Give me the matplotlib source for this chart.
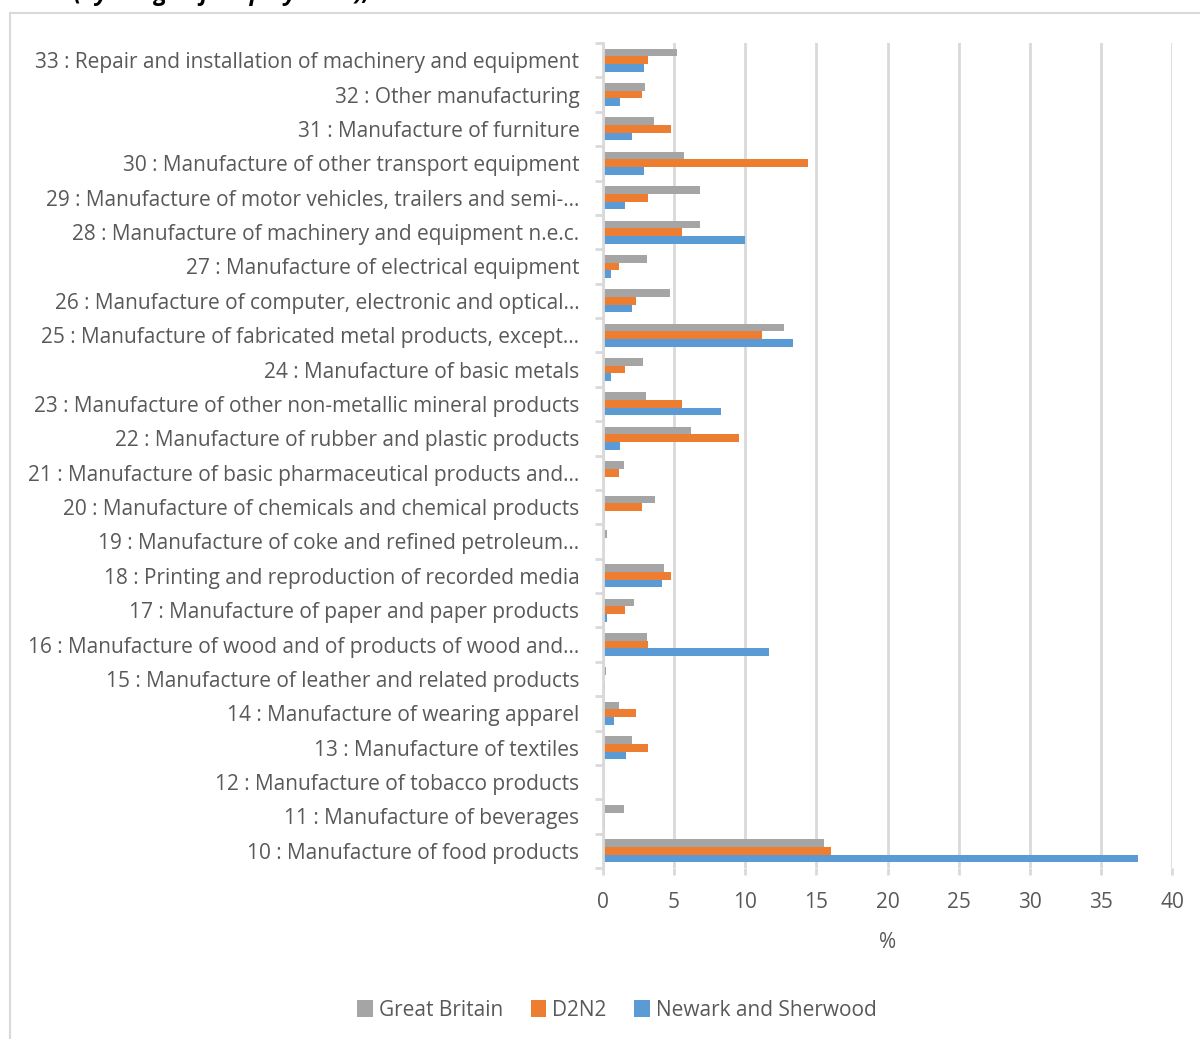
import numpy as np
import matplotlib
matplotlib.use("Agg")
import matplotlib.pyplot as plt
from matplotlib.patches import Rectangle

plt.rcParams['font.family'] = ['Open Sans', 'DejaVu Sans']

# SIC divisions, bottom (10) to top (33)
sectors = [
    "10 : Manufacture of food products",
    "11 : Manufacture of beverages",
    "12 : Manufacture of tobacco products",
    "13 : Manufacture of textiles",
    "14 : Manufacture of wearing apparel",
    "15 : Manufacture of leather and related products",
    "16 : Manufacture of wood and of products of wood and\u2026",
    "17 : Manufacture of paper and paper products",
    "18 : Printing and reproduction of recorded media",
    "19 : Manufacture of coke and refined petroleum\u2026",
    "20 : Manufacture of chemicals and chemical products",
    "21 : Manufacture of basic pharmaceutical products and\u2026",
    "22 : Manufacture of rubber and plastic products",
    "23 : Manufacture of other non-metallic mineral products",
    "24 : Manufacture of basic metals",
    "25 : Manufacture of fabricated metal products, except\u2026",
    "26 : Manufacture of computer, electronic and optical\u2026",
    "27 : Manufacture of electrical equipment",
    "28 : Manufacture of machinery and equipment n.e.c.",
    "29 : Manufacture of motor vehicles, trailers and semi-\u2026",
    "30 : Manufacture of other transport equipment",
    "31 : Manufacture of furniture",
    "32 : Other manufacturing",
    "33 : Repair and installation of machinery and equipment",
]

# % of manufacturing employment
great_britain = [15.52, 1.46, 0.0, 2.05, 1.13, 0.21, 3.11, 2.16, 4.31, 0.26, 3.67, 1.46,
                 6.22, 3.04, 2.83, 12.69, 4.71, 3.08, 6.85, 6.80, 5.72, 3.58, 2.94, 5.23]
d2n2 = [16.04, 0.14, 0.0, 3.18, 2.35, 0.05, 3.18, 1.53, 4.76, 0.0, 2.76, 1.15,
        9.58, 5.56, 1.53, 11.19, 2.35, 1.15, 5.56, 3.15, 14.42, 4.76, 2.76, 3.15]
newark_sherwood = [37.60, 0.11, 0.0, 1.60, 0.75, 0.11, 11.66, 0.26, 4.14, 0.0, 0.16, 0.0,
                   1.20, 8.31, 0.59, 13.33, 2.02, 0.59, 9.99, 1.58, 2.87, 2.02, 1.20, 2.87]

series_names = ["Great Britain", "D2N2", "Newark and Sherwood"]
colors = ["#A5A5A5", "#ED7D31", "#5B9BD5"]
text_col = "#595959"
grid_col = "#D9D9D9"

fig = plt.figure(figsize=(12, 10.39), dpi=100)

# outer chart frame
fig.patches.append(Rectangle((10 / 1200, -0.01), 1.0, 1 - 13 / 1039 + 0.01,
                             transform=fig.transFigure, fill=False,
                             edgecolor=grid_col, linewidth=1.5))
# heading sits above the frame, mostly off the top edge
fig.text(0.062, 1.0, "(by % age of employment),", fontsize=17, fontweight='bold',
         fontstyle='italic', color='black', va='baseline', ha='left')

ax = fig.add_axes([603 / 1200, 1 - 868 / 1039, (1172 - 603) / 1200, (868 - 43) / 1039])

y = np.arange(len(sectors))
h = 1 / 4.5
ax.barh(y + h, great_britain, height=h, color=colors[0], label=series_names[0])
ax.barh(y, d2n2, height=h, color=colors[1], label=series_names[1])
ax.barh(y - h, newark_sherwood, height=h, color=colors[2], label=series_names[2])

ax.set_xlim(0, 40)
ax.set_ylim(-0.5, len(sectors) - 0.5)
ax.set_xticks(np.arange(0, 41, 5))
ax.set_yticks(y)
ax.set_yticklabels(sectors)
ax.set_yticks(np.arange(-0.5, len(sectors), 1), minor=True)

ax.xaxis.grid(True, color=grid_col, linewidth=2)
ax.set_axisbelow(True)
for s in ['top', 'right', 'bottom']:
    ax.spines[s].set_visible(False)
ax.spines['left'].set_color(grid_col)
ax.spines['left'].set_linewidth(2)

ax.tick_params(axis='y', which='major', length=0, pad=17, labelsize=15, labelcolor=text_col)
ax.tick_params(axis='y', which='minor', length=6, width=2, color=grid_col)
ax.tick_params(axis='x', length=5, width=2, color=grid_col, pad=12,
               labelsize=15, labelcolor=text_col)
ax.set_xlabel("%", fontsize=15, color=text_col, labelpad=14)

fig.legend(loc='center', bbox_to_anchor=(617 / 1200, 1 - 1010 / 1039), ncol=3,
           frameon=False, fontsize=15, labelcolor=text_col, handlelength=0.75,
           handleheight=0.9, handletextpad=0.3, columnspacing=1.3)

fig.savefig("out.png", dpi=100)
